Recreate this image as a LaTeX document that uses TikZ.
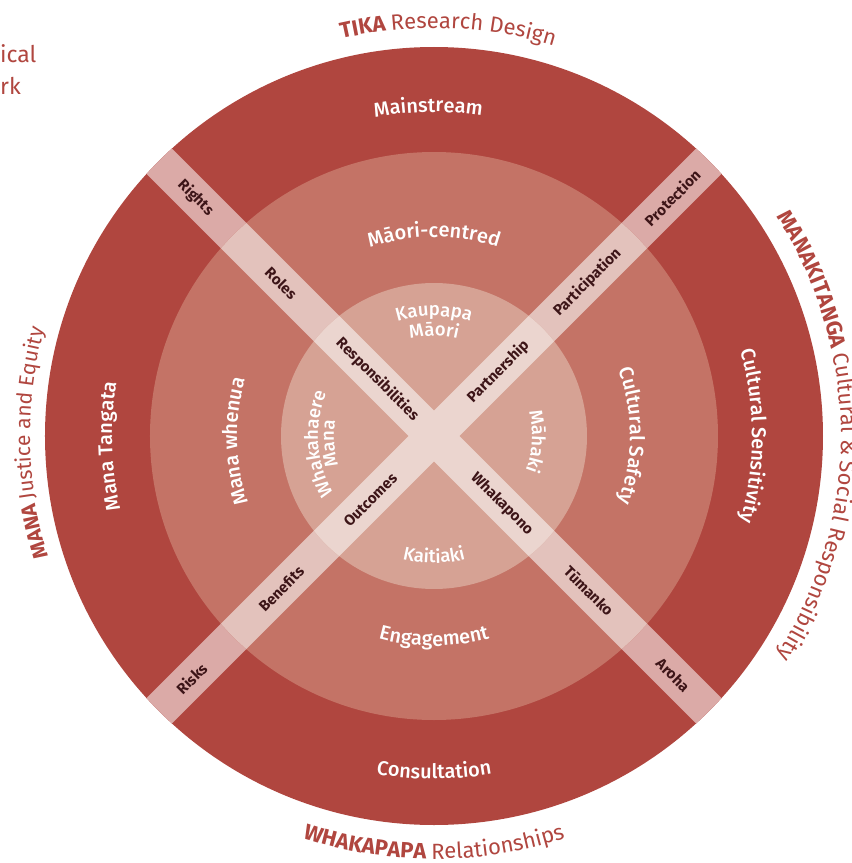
\documentclass[tikz,border=0pt]{standalone}
\usepackage{fontspec}
\setmainfont{Fira Sans}
\newfontfamily\medfont{Fira Sans Medium}
\usetikzlibrary{decorations.text}
\definecolor{ringA}{HTML}{B0463F}
\definecolor{ringB}{HTML}{C47366}
\definecolor{ringC}{HTML}{D6A294}
\definecolor{bandA}{HTML}{DBAAA7}
\definecolor{bandB}{HTML}{E3C2BC}
\definecolor{bandC}{HTML}{EBD5CF}
\definecolor{bandtext}{HTML}{3D1518}
\definecolor{titlered}{HTML}{B0463F}
% clockwise arc text: #1 radius, #2 centre angle, #3 half span, #4 format, #5 text
\newcommand\cwlabel[5]{%
  \pgfmathsetmacro\myStartA{#2+#3}\pgfmathsetmacro\myEndA{#2-#3}%
  \path[decorate,decoration={text along path,text={|#4|#5},text align=center}]
    (\myStartA:#1) arc[start angle=\myStartA,end angle=\myEndA,radius=#1];}
% counter-clockwise arc text
\newcommand\ccwlabel[5]{%
  \pgfmathsetmacro\myStartA{#2-#3}\pgfmathsetmacro\myEndA{#2+#3}%
  \path[decorate,decoration={text along path,text={|#4|#5},text align=center}]
    (\myStartA:#1) arc[start angle=\myStartA,end angle=\myEndA,radius=#1];}
\newcommand\ringfont{\medfont\fontsize{20}{22}\selectfont\color{white}}
\newcommand\innerfont{\medfont\fontsize{18.5}{20}\selectfont\color{white}}
\newcommand\titlefont{\fontsize{22}{25}\selectfont\color{titlered}}
\newcommand\titlefontL{\fontsize{21}{24}\selectfont\color{titlered}}
\begin{document}
\begin{tikzpicture}[x=1pt,y=1pt,
  bandlabel/.style={text=bandtext,font=\fontsize{15}{17}\selectfont\bfseries,inner sep=0pt}]
\useasboundingbox (-434,-427) rectangle (418,436);
% outer ring
\fill[ringA] (0,0) circle[radius=389];
\begin{scope}
  \clip (0,0) circle[radius=389];
  \fill[bandA,rotate=45] (-400,-18) rectangle (400,18);
  \fill[bandA,rotate=-45] (-400,-18) rectangle (400,18);
\end{scope}
% middle ring
\fill[ringB] (0,0) circle[radius=284];
\begin{scope}
  \clip (0,0) circle[radius=284];
  \fill[bandB,rotate=45] (-400,-18) rectangle (400,18);
  \fill[bandB,rotate=-45] (-400,-18) rectangle (400,18);
\end{scope}
% inner circle
\fill[ringC] (0,0) circle[radius=153];
\begin{scope}
  \clip (0,0) circle[radius=153];
  \fill[bandC,rotate=45] (-400,-18) rectangle (400,18);
  \fill[bandC,rotate=-45] (-400,-18) rectangle (400,18);
\end{scope}

% band labels
\node[bandlabel,rotate=-45] (rights) at (135:337) {Rights};
\node[bandlabel,rotate=-45] (roles) at (135:216) {Roles};
\node[bandlabel,rotate=-45] (resp) at (135:80) {Responsibilities};
\node[bandlabel,rotate=-45] (whakapono) at (-45:96) {Whakapono};
\node[bandlabel,rotate=-45] (tumanko) at (-45:219) {Tūmanko};
\node[bandlabel,rotate=-45] (aroha) at (-45:338) {Aroha};
\node[bandlabel,rotate=45] (risks) at (225:343) {Risks};
\node[bandlabel,rotate=45] (benefits) at (225:216) {Benefits};
\node[bandlabel,rotate=45] (outcomes) at (225:90) {Outcomes};
\node[bandlabel,rotate=45] (partnership) at (45:91) {Partnership};
\node[bandlabel,rotate=45] (participation) at (45:217) {Participation};
\node[bandlabel,rotate=45] (protection) at (45:337) {Protection};

% outer ring labels
\cwlabel{324}{91}{40}{\ringfont}{Mainstream}
\ccwlabel{343}{270}{40}{\ringfont}{Consultation}
\cwlabel{322}{181.8}{40}{\ringfont}{Mana Tangata}
\cwlabel{318}{0}{40}{\ringfont}{Cultural Sensitivity}
% middle ring labels
\cwlabel{199}{90}{50}{\ringfont}{Māori-centred}
\ccwlabel{210}{270}{50}{\ringfont}{Engagement}
\cwlabel{197}{181.5}{50}{\ringfont}{Mana whenua}
\cwlabel{196}{0}{50}{\ringfont}{Cultural Safety}
% inner labels
\cwlabel{120}{90}{60}{\innerfont}{Kaupapa}
\cwlabel{100}{90}{60}{\innerfont}{Māori}
\ccwlabel{127}{270}{60}{\innerfont}{Kaitiaki}
\cwlabel{116}{184}{60}{\innerfont}{Whakahaere}
\cwlabel{100}{184}{60}{\innerfont}{Mana}
\cwlabel{98}{-3}{60}{\innerfont}{Māhaki}

% outside titles
\cwlabel{408}{88}{40}{\titlefont\bfseries}{TIKA |\titlefont\mdseries|Research Design}
\cwlabel{407}{0}{70}{\titlefont\bfseries}{MANAKITANGA |\titlefont\mdseries|Cultural {\&} Social Responsibility}
\cwlabel{404}{181}{40}{\titlefontL\bfseries}{MANA |\titlefontL\mdseries|Justice and Equity}
\ccwlabel{423}{270}{40}{\titlefont\bfseries}{WHAKAPAPA |\titlefont\mdseries|Relationships}

% cut-off corner text
\node[anchor=base west,inner sep=0pt,text=titlered,font=\fontsize{23}{26}\selectfont] (ical) at (-434,373) {ical};
\node[anchor=base west,inner sep=0pt,text=titlered,font=\fontsize{23}{26}\selectfont] (rk) at (-434,341) {rk};
\end{tikzpicture}
\end{document}
